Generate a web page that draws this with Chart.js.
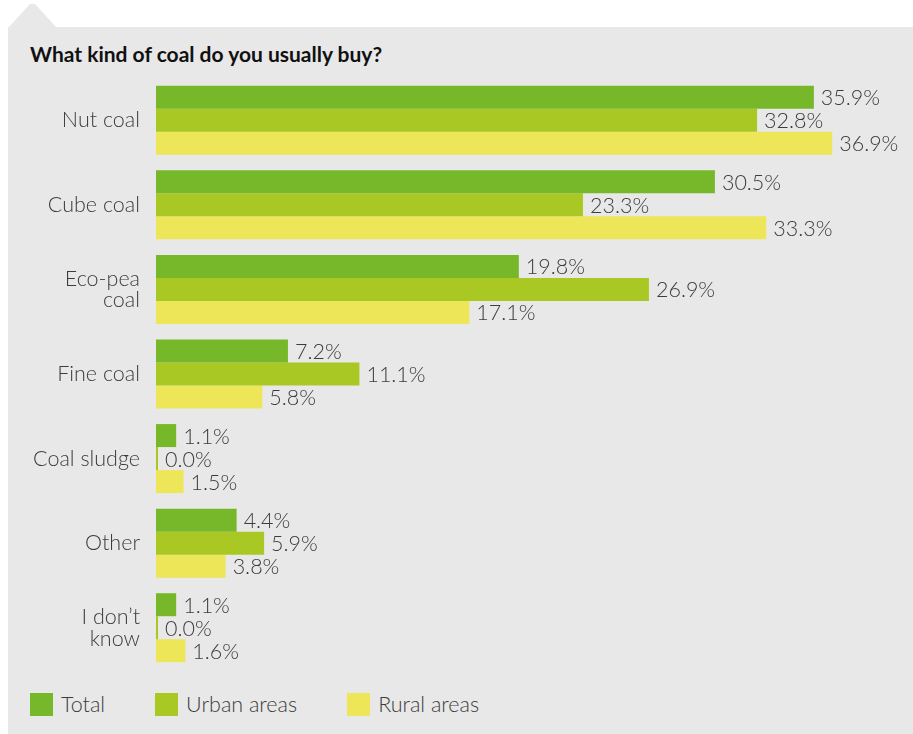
<!DOCTYPE html>
<html>
<head>
<meta charset="utf-8">
<script src="https://cdn.jsdelivr.net/npm/chart.js@4/dist/chart.umd.min.js"></script>
<style>
  html, body { margin: 0; padding: 0; background: #fff; }
  .page { position: relative; width: 913px; height: 734px; overflow: hidden; font-family: 'Lato', sans-serif; }
  .tab { position: absolute; left: 8px; top: 4px; width: 49px; height: 24px; background: #e8e8e8;
         clip-path: polygon(0 100%, 45% 0, 55% 0, 100% 100%); }
  .panel { position: absolute; left: 8px; top: 27px; right: 0; bottom: 0; background: #e8e8e8; }
  .title { position: absolute; left: 30px; top: 43px; font-weight: 700; font-size: 21px; line-height: 21px; color: #111; }
  #chart { position: absolute; left: 0; top: 78px; }
  .legend { position: absolute; left: 30px; top: 693px; display: flex; gap: 50px; }
  .legend .item { display: flex; align-items: center; font-weight: 300; font-size: 21.5px; line-height: 23px; color: #3c3c3c; }
  .legend .box { width: 23px; height: 23px; margin-right: 8px; }
</style>
</head>
<body>
<div class="page">
  <div class="tab"></div>
  <div class="panel"></div>
  <div class="title">What kind of coal do you usually buy?</div>
  <canvas id="chart" width="913" height="592"></canvas>
  <div class="legend" id="legend"></div>
</div>
<script>
// answers (multi-line labels as arrays)
const categories = ['Nut coal', 'Cube coal', ['Eco-pea', 'coal'], 'Fine coal', 'Coal sludge', 'Other', ['I don\u2019t', 'know']];

const seriesNames = ['Total', 'Urban areas', 'Rural areas'];
const totalValues = [35.9, 30.5, 19.8, 7.2, 1.1, 4.4, 1.1];
const urbanValues = [32.8, 23.3, 26.9, 11.1, 0.0, 5.9, 0.0];
const ruralValues = [36.9, 33.3, 17.1, 5.8, 1.5, 3.8, 1.6];

const colors = ['#76b82a', '#a9c823', '#ece658'];
const textColor = '#3c3c3c';

// percentage printed just past the end of each bar
const valueLabels = {
    id: 'valueLabels',
    afterDatasetsDraw(chart) {
        const ctx = chart.ctx;
        ctx.save();
        ctx.font = '300 21.5px Lato';
        ctx.fillStyle = textColor;
        ctx.textAlign = 'left';
        ctx.textBaseline = 'middle';
        chart.data.datasets.forEach((ds, i) => {
            chart.getDatasetMeta(i).data.forEach((bar, j) => {
                ctx.fillText(ds.data[j].toFixed(1) + '%', bar.x + 7, bar.y + 1);
            });
        });
        ctx.restore();
    },
};

const seriesData = [totalValues, urbanValues, ruralValues];

new Chart(document.getElementById('chart'), {
    type: 'bar',
    data: {
        labels: categories,
        datasets: seriesData.map((d, i) => ({
            label: seriesNames[i],
            data: d,
            backgroundColor: colors[i],
            borderWidth: 0,
            barPercentage: 1,
            categoryPercentage: 0.816,
            minBarLength: i === 1 ? 2 : 0,
        })),
    },
    options: {
        indexAxis: 'y',
        responsive: false,
        animation: false,
        layout: { padding: { left: 0, right: 24, top: 0, bottom: 0 } },
        scales: {
            x: { display: false, min: 0, max: 40 },
            y: {
                grid: { display: false, drawTicks: false },
                border: { display: false },
                ticks: {
                    color: textColor,
                    padding: 16,
                    font: { family: 'Lato', size: 21.5, weight: 300, lineHeight: 1.01 },
                },
                afterFit: (scale) => {
                    // fixed gutter for the labels, no extra room above/below the bands
                    scale.width = 156;
                    scale.paddingTop = 0;
                    scale.paddingBottom = 0;
                },
            },
        },
        plugins: {
            legend: { display: false },
            tooltip: { enabled: false },
        },
    },
    plugins: [valueLabels],
});

// legend row
const legend = document.getElementById('legend');
seriesNames.forEach((name, i) => {
    const item = document.createElement('div');
    item.className = 'item';
    item.innerHTML = `<span class="box" style="background:${colors[i]}"></span>${name}`;
    legend.appendChild(item);
});
</script>
</body>
</html>
